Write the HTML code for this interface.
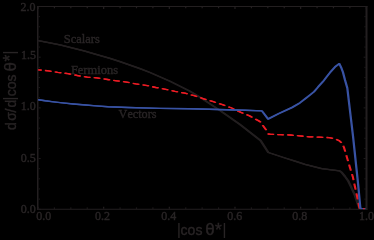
<!DOCTYPE html>
<html><head><meta charset="utf-8">
<style>
html,body{margin:0;padding:0;background:#000;}
body{width:374px;height:240px;overflow:hidden;position:relative;}
svg{position:absolute;left:0;top:0;display:block;}
text{fill:#282425;stroke:#282425;stroke-width:0.4px;}
.g{filter:opacity(0.999);}
.t{font-family:"Liberation Serif",serif;font-size:12px;font-kerning:none;}
.s{font-family:"Liberation Sans",sans-serif;font-size:14px;}
.b{font-size:17.5px;}
.th{font-size:17px;stroke-width:0.4px;}
.bar{font-size:16.8px;stroke:none;}
</style></head><body>
<svg width="374" height="240" viewBox="0 0 374 240">
<rect width="374" height="240" fill="#000"/>
<g fill="#231F20" stroke="none">
<rect x="37" y="6" width="1.5" height="203.75"/>
<rect x="365.5" y="6" width="2" height="203.75"/>
<rect x="37" y="6" width="330.5" height="1"/>
<rect x="37" y="208.75" width="330.5" height="1"/>
</g>
<g stroke="#231F20" stroke-width="0.9" fill="none">
<path stroke-width="1.2" d="M38.00 208.75v-2.0M38.00 7.0v2.0"/>
<path stroke-width="1.2" d="M54.42 208.75v-1.2M54.42 7.0v1.2"/>
<path stroke-width="1.2" d="M70.83 208.75v-1.2M70.83 7.0v1.2"/>
<path stroke-width="1.2" d="M87.25 208.75v-1.2M87.25 7.0v1.2"/>
<path stroke-width="1.2" d="M103.66 208.75v-2.0M103.66 7.0v2.0"/>
<path stroke-width="1.2" d="M120.08 208.75v-1.2M120.08 7.0v1.2"/>
<path stroke-width="1.2" d="M136.49 208.75v-1.2M136.49 7.0v1.2"/>
<path stroke-width="1.2" d="M152.91 208.75v-1.2M152.91 7.0v1.2"/>
<path stroke-width="1.2" d="M169.32 208.75v-2.0M169.32 7.0v2.0"/>
<path stroke-width="1.2" d="M185.74 208.75v-1.2M185.74 7.0v1.2"/>
<path stroke-width="1.2" d="M202.15 208.75v-1.2M202.15 7.0v1.2"/>
<path stroke-width="1.2" d="M218.57 208.75v-1.2M218.57 7.0v1.2"/>
<path stroke-width="1.2" d="M234.98 208.75v-2.0M234.98 7.0v2.0"/>
<path stroke-width="1.2" d="M251.40 208.75v-1.2M251.40 7.0v1.2"/>
<path stroke-width="1.2" d="M267.81 208.75v-1.2M267.81 7.0v1.2"/>
<path stroke-width="1.2" d="M284.23 208.75v-1.2M284.23 7.0v1.2"/>
<path stroke-width="1.2" d="M300.64 208.75v-2.0M300.64 7.0v2.0"/>
<path stroke-width="1.2" d="M317.06 208.75v-1.2M317.06 7.0v1.2"/>
<path stroke-width="1.2" d="M333.47 208.75v-1.2M333.47 7.0v1.2"/>
<path stroke-width="1.2" d="M349.88 208.75v-1.2M349.88 7.0v1.2"/>
<path stroke-width="1.2" d="M366.30 208.75v-2.0M366.30 7.0v2.0"/>
<path d="M38.70 209.25h2.0M365.60 209.25h-2.0"/>
<path d="M38.70 199.11h1.2M365.60 199.11h-1.2"/>
<path d="M38.70 188.97h1.2M365.60 188.97h-1.2"/>
<path d="M38.70 178.84h1.2M365.60 178.84h-1.2"/>
<path d="M38.70 168.70h1.2M365.60 168.70h-1.2"/>
<path d="M38.70 158.56h2.0M365.60 158.56h-2.0"/>
<path d="M38.70 148.43h1.2M365.60 148.43h-1.2"/>
<path d="M38.70 138.29h1.2M365.60 138.29h-1.2"/>
<path d="M38.70 128.15h1.2M365.60 128.15h-1.2"/>
<path d="M38.70 118.01h1.2M365.60 118.01h-1.2"/>
<path d="M38.70 107.88h2.0M365.60 107.88h-2.0"/>
<path d="M38.70 97.74h1.2M365.60 97.74h-1.2"/>
<path d="M38.70 87.60h1.2M365.60 87.60h-1.2"/>
<path d="M38.70 77.46h1.2M365.60 77.46h-1.2"/>
<path d="M38.70 67.33h1.2M365.60 67.33h-1.2"/>
<path d="M38.70 57.19h2.0M365.60 57.19h-2.0"/>
<path d="M38.70 47.05h1.2M365.60 47.05h-1.2"/>
<path d="M38.70 36.91h1.2M365.60 36.91h-1.2"/>
<path d="M38.70 26.78h1.2M365.60 26.78h-1.2"/>
<path d="M38.70 16.64h1.2M365.60 16.64h-1.2"/>
<path d="M38.70 6.50h2.0M365.60 6.50h-2.0"/>
</g>
<g fill="none" stroke-linejoin="round">
<g stroke="#231F20" stroke-width="1.25"><polyline transform="translate(-0.6,0)" points="38.3,40.6 60,44.9 72,47.8 84,50.9 96,54.4 110,58.4 120,61.7 140,68.7 150,72.5 170,81.2 190,91.2 200,97.2 220,110.5 240,124.6 260.8,140.8 268.3,152.5 285,158 295,161.2 305,164.3 321.7,168.6 339.5,170.8 341.5,172.2 345,176.5 348,180.6 351,186.8 355,195.5 358.5,206 359.5,208.6"/><polyline points="38.3,40.6 60,44.9 72,47.8 84,50.9 96,54.4 110,58.4 120,61.7 140,68.7 150,72.5 170,81.2 190,91.2 200,97.2 220,110.5 240,124.6 260.8,140.8 268.3,152.5 285,158 295,161.2 305,164.3 321.7,168.6 339.5,170.8 341.5,172.2 345,176.5 348,180.6 351,186.8 355,195.5 358.5,206 359.5,208.6"/><polyline transform="translate(0.6,0)" points="38.3,40.6 60,44.9 72,47.8 84,50.9 96,54.4 110,58.4 120,61.7 140,68.7 150,72.5 170,81.2 190,91.2 200,97.2 220,110.5 240,124.6 260.8,140.8 268.3,152.5 285,158 295,161.2 305,164.3 321.7,168.6 339.5,170.8 341.5,172.2 345,176.5 348,180.6 351,186.8 355,195.5 358.5,206 359.5,208.6"/></g>
<g stroke="#ED1C24" stroke-width="1.3" stroke-dasharray="6.2,3.66" stroke-dashoffset="2.9"><polyline transform="translate(-0.4,0)" points="38.3,69.8 48.5,70.8 57.7,72.3 68,73.7 77.3,75.5 87.3,77.2 96.7,77.9 107.5,79.5 116.7,80.8 126.7,82.2 135.8,83.8 145.8,85.3 155.8,87.5 165.8,89.3 175,91.4 185,93.2 194.2,95.7 203.7,98.8 213.3,101.7 222.5,104.7 231.7,108 240.4,112.2 249.6,115.9 258.8,120.9 261.6,122.7 262.8,125.4 267,131.2 268.3,134 270.8,134.3 280.4,134.7 290.4,135 299.5,135.9 309.5,136.8 319.5,137.2 329.2,137.6 335,138.9 339,140.6 342,143.1 344,147.5 346.1,154.5 348.9,164 349.7,166.7 352.8,176.7 354.8,186 356.7,194.5 358.5,203 359.6,208.6"/><polyline transform="translate(0.4,0)" points="38.3,69.8 48.5,70.8 57.7,72.3 68,73.7 77.3,75.5 87.3,77.2 96.7,77.9 107.5,79.5 116.7,80.8 126.7,82.2 135.8,83.8 145.8,85.3 155.8,87.5 165.8,89.3 175,91.4 185,93.2 194.2,95.7 203.7,98.8 213.3,101.7 222.5,104.7 231.7,108 240.4,112.2 249.6,115.9 258.8,120.9 261.6,122.7 262.8,125.4 267,131.2 268.3,134 270.8,134.3 280.4,134.7 290.4,135 299.5,135.9 309.5,136.8 319.5,137.2 329.2,137.6 335,138.9 339,140.6 342,143.1 344,147.5 346.1,154.5 348.9,164 349.7,166.7 352.8,176.7 354.8,186 356.7,194.5 358.5,203 359.6,208.6"/></g>
<g stroke="#3953A4" stroke-width="1.45"><polyline transform="translate(-0.4,0)" points="38.4,99.7 45.2,100.8 53.6,101.9 62.5,102.9 73.3,104 85.7,105 96,105.9 108,106.7 128,107.5 160,108.4 190,108.8 209,109.2 245,110.2 261.9,110.9 268.1,119 278.7,113.6 292,107.5 300,102.8 306,98.1 310,95 314,91.8 318,87.1 323,81.6 327,76.4 330,72.6 335,66.9 339.4,63.7 341.2,67.6 342.9,72 345,80 347.3,88 349.2,104 351.1,120 353,136 354.7,152 356.4,168 358.1,184 359.6,200 360.3,207.5 360.5,208.6"/><polyline transform="translate(0.4,0)" points="38.4,99.7 45.2,100.8 53.6,101.9 62.5,102.9 73.3,104 85.7,105 96,105.9 108,106.7 128,107.5 160,108.4 190,108.8 209,109.2 245,110.2 261.9,110.9 268.1,119 278.7,113.6 292,107.5 300,102.8 306,98.1 310,95 314,91.8 318,87.1 323,81.6 327,76.4 330,72.6 335,66.9 339.4,63.7 341.2,67.6 342.9,72 345,80 347.3,88 349.2,104 351.1,120 353,136 354.7,152 356.4,168 358.1,184 359.6,200 360.3,207.5 360.5,208.6"/></g>
</g>
<path d="M360 208.6H365.6" stroke="#3953A4" stroke-width="1.1" fill="none"/>
<path d="M363.2 208.6h1.4" stroke="#ED1C24" stroke-width="1.1" fill="none"/>
<g class="t g">
<text transform="translate(63.8,43.4) scale(1.04,1)">Scalars</text>
<text transform="translate(70.9,73.9) scale(1.04,1)">Fermions</text>
<text transform="translate(118.6,118.35) scale(1.015,1)">Vectors</text>
<text x="35.5" y="10.5" text-anchor="end">2.0</text>
<text x="36.0" y="59.4" text-anchor="end">1.5</text>
<text x="35.8" y="109.8" text-anchor="end">1.0</text>
<text x="35.8" y="162.1" text-anchor="end">0.5</text>
<text x="35.8" y="213.2" text-anchor="end">0.0</text>
<text x="43.75" y="220.25" text-anchor="middle">0.0</text>
<text x="102.6" y="220.25" text-anchor="middle">0.2</text>
<text x="168.8" y="220.25" text-anchor="middle">0.4</text>
<text x="234.8" y="220.25" text-anchor="middle">0.6</text>
<text x="299.8" y="220.25" text-anchor="middle">0.8</text>
<text x="366.5" y="220.25" text-anchor="middle">1.0</text>
</g>
<g class="g"><text class="s"><tspan class="bar" x="176.82" y="235.07">|</tspan><tspan x="180.6" y="235.4">cos </tspan><tspan class="th" x="205.17" y="235.4">θ</tspan><tspan class="b" x="214.9" y="235.7">*</tspan><tspan class="bar" x="222.27" y="235.07">|</tspan></text></g>
<g class="g" transform="translate(15.5,0) rotate(-90)"><text class="s"><tspan x="-130.0 -120.76 -112.44 -107.5" y="0">dσ/d</tspan><tspan class="bar" x="-100.78" y="-0.33">|</tspan><tspan x="-96.3" y="0">cos </tspan><tspan class="th" x="-71.48" y="0">θ</tspan><tspan class="b" x="-61.41" y="0.3">*</tspan><tspan class="bar" x="-54.78" y="-0.33">|</tspan></text></g>
</svg>
</body></html>
